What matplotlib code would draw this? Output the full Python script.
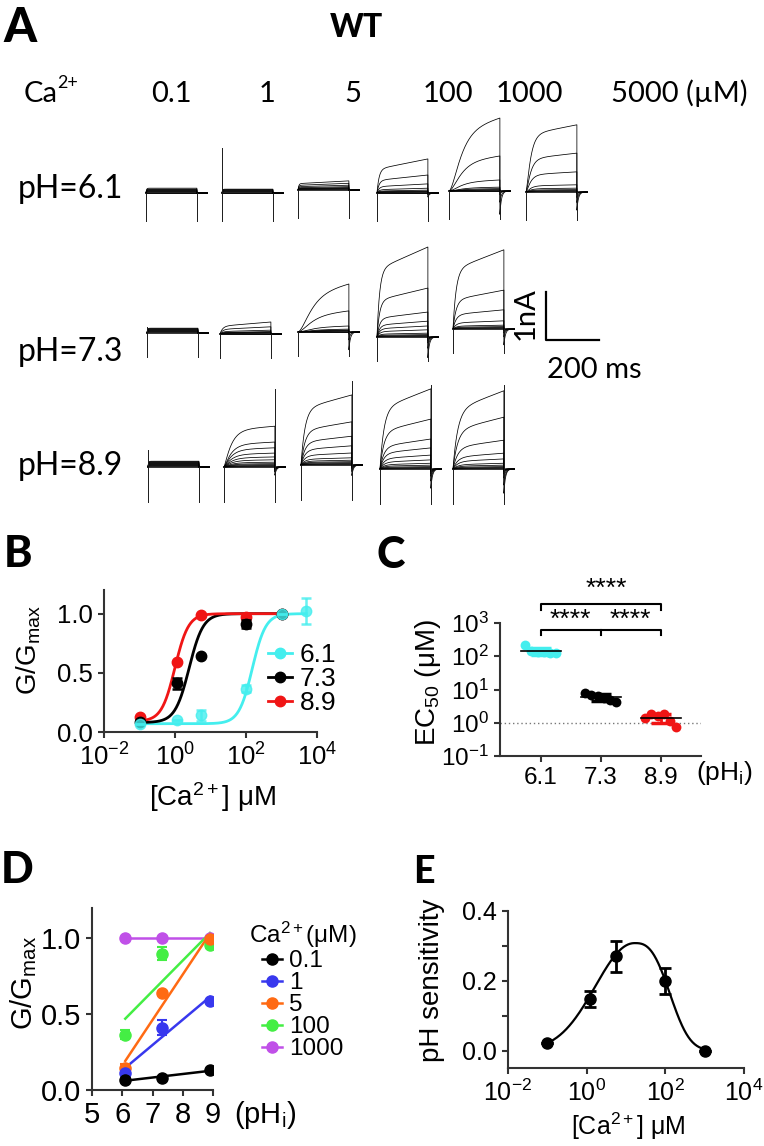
import numpy as np
import matplotlib
matplotlib.use("Agg")
import matplotlib.pyplot as plt
from matplotlib.lines import Line2D
from matplotlib.ticker import NullLocator, FixedLocator

plt.rcParams.update({
    "font.family": ["Liberation Sans", "DejaVu Sans"],
    "mathtext.fontset": "custom",
    "mathtext.rm": "Liberation Sans",
    "mathtext.it": "Liberation Sans:italic",
    "mathtext.bf": "Liberation Sans:bold",
    "axes.linewidth": 1.5,
    "axes.edgecolor": "#333333",
    "xtick.major.width": 1.5, "ytick.major.width": 1.5,
    "xtick.minor.width": 1.5, "ytick.minor.width": 1.5,
    "xtick.major.size": 4.5, "ytick.major.size": 4.5,
    "ytick.minor.size": 4.5,
    "xtick.color": "#333333", "ytick.color": "#333333",
    "xtick.labelcolor": "black", "ytick.labelcolor": "black",
})
W, H = 764, 1146
CAL = "Lato"          # stand-in for the Calibri used in panel A

# ---------------- panel A: current families ----------------
CA_A = ["0.1", "1", "5", "100", "1000"]
PH_A = ["6.1", "7.3", "8.9"]
# current (nA) at the end of each voltage step, largest first
AMP_61 = [
    [0.10, 0.08, 0.07, 0.06, 0.05, 0.04, 0.03, 0.02, 0.01, 0.0, -0.01],
    [0.08, 0.07, 0.06, 0.05, 0.04, 0.03, 0.02, 0.01, 0.0, -0.01],
    [0.19, 0.14, 0.10, 0.07, 0.05, 0.04, 0.03, 0.02, 0.01, 0.0],
    [0.71, 0.375, 0.19, 0.10, 0.06, 0.04, 0.03, 0.02, 0.01, 0.0, -0.01],
    [1.52, 0.73, 0.23, 0.08, 0.05, 0.03, 0.02, 0.01, 0.0, -0.01],
    [1.40, 0.81, 0.42, 0.15, 0.08, 0.05, 0.03, 0.02, 0.01, 0.0],
]
AMP_73 = [
    [0.10, 0.09, 0.08, 0.07, 0.06, 0.05, 0.04, 0.03, 0.02, 0.01, 0.0],
    [0.25, 0.15, 0.08, 0.05, 0.04, 0.03, 0.02, 0.01, 0.0, -0.01],
    [1.00, 0.44, 0.125, 0.06, 0.04, 0.03, 0.02, 0.01, 0.0, -0.01],
    [1.875, 1.02, 0.52, 0.33, 0.23, 0.15, 0.08, 0.05, 0.03, 0.02, 0.01, 0.0],
    [1.65, 0.81, 0.40, 0.17, 0.08, 0.05, 0.03, 0.02, 0.01, 0.0],
]
AMP_89 = [
    [0.12, 0.11, 0.10, 0.09, 0.08, 0.07, 0.06, 0.05, 0.04, 0.03, 0.02, 0.01, 0.0],
    [0.85, 0.52, 0.40, 0.29, 0.21, 0.15, 0.10, 0.07, 0.05, 0.03, 0.02, 0.01, 0.0],
    [1.46, 0.90, 0.60, 0.40, 0.25, 0.15, 0.10, 0.07, 0.05, 0.03, 0.02, 0.01, 0.0],
    [1.67, 1.04, 0.625, 0.44, 0.29, 0.19, 0.12, 0.08, 0.05, 0.03, 0.02, 0.01, 0.0],
    [1.63, 1.08, 0.60, 0.33, 0.21, 0.12, 0.08, 0.05, 0.03, 0.02, 0.01, 0.0],
]
# activation time constant (ms), sigmoid power, slow-creep fraction, tail fraction
TAU = [[2, 2, 3, 8, 35, 15], [2, 10, 40, 10, 12], [2, 25, 15, 15, 18]]
POW = [[1, 1, 1, 1, 2, 1.5], [1, 1, 2, 1, 1], [1, 1.3, 1, 1, 1]]
CREEP = [[0, 0, 0.3, 0.3, 0.2, 0.15], [0, 0.35, 0.25, 0.25, 0.25], [0, 0.1, 0.2, 0.25, 0.25]]
TAIL = [[0, 0, 0.05, 0.12, 0.32, 0.27], [0, 0.05, 0.37, 0.23, 0.2], [0, 0.2, 0.15, 0.24, 0.31]]
# capacitive artefacts (nA): downward per row, upward at pulse on / off
CAP_DN = [0.58, 0.5, 0.73]
CAP_ON = [[0, 0.94, 0, 0, 0, 0], [0.12, 0, 0, 0, 0], [0.35, 0, 0, 0, 0]]
CAP_OFF = [[0, 0, 0, 0, 0, 0], [0, 0, 0, 0, 0], [0, 1.63, 1.75, 1.75, 1.75]]
PULSE_MS, TAIL_MS = 192, 40

# ---------------- panel B ----------------
CA_B = [0.1, 1.15, 5.5, 100, 1000, 5000]
G_61 = [0.07, 0.10, 0.14, 0.366, 1.0, 1.02]
G_61_ERR = [0, 0, 0.045, 0.03, 0, 0.11]
G_73 = [0.085, 0.41, 0.64, 0.91, 1.0]
G_73_ERR = [0, 0.045, 0, 0.035, 0]
G_89 = [0.13, 0.59, 0.986, 0.97, 1.0]
G_89_ERR = [0, 0, 0, 0, 0]
# Hill fit parameters per pH (6.1, 7.3, 8.9)
EC50_FIT = [150, 2.5, 1.0]
NH_FIT = [2.3, 2.2, 2.3]
BOTTOM_FIT = [0.07, 0.08, 0.09]

# ---------------- panel C ----------------
PH_C = ["6.1", "7.3", "8.9"]
EC50_61 = [215, 140, 135, 135, 128, 122]
EC50_73 = [7.8, 6.8, 6.2, 5.6, 4.7, 4.2]
EC50_89 = [1.4, 1.85, 1.6, 1.8, 1.1, 0.75]
JITTER = [-0.27, -0.16, -0.05, 0.05, 0.15, 0.26]

# ---------------- panel D ----------------
PH_D = [6.1, 7.3, 8.9]
CA_D = ["0.1", "1", "5", "100", "1000"]
GD = [[0.066, 0.081, 0.13], [0.11, 0.41, 0.587], [0.143, 0.637, 0.995],
      [0.363, 0.90, 0.955], [1.0, 1.0, 1.0]]
GD_ERR = [[0, 0, 0], [0, 0.05, 0], [0.03, 0, 0.02], [0.03, 0.045, 0.02], [0, 0, 0]]

# ---------------- panel E ----------------
CA_E = [0.1, 1.2, 5.5, 100, 1000]
SENS = [0.022, 0.147, 0.27, 0.20, 0.0]
SENS_ERR = [0, 0.0225, 0.044, 0.038, 0]
# two-sided bell fit on log10[Ca]: peak, centre, (width, power) left / right
BELL_PEAK, BELL_MU = 0.308, 1.22
BELL_LEFT, BELL_RIGHT = (1.38, 2.07), (1.053, 2.8)

CYAN, RED, BLACK = "#44EEEE", "#F01515", "black"
D_COLORS = ["black", "#3838EE", "#FF6A13", "#44EE44", "#C050E8"]


def px_rect(x0, y0, x1, y1):
    return [x0 / W, 1 - y1 / H, (x1 - x0) / W, (y1 - y0) / H]


fig = plt.figure(figsize=(W / 100, H / 100), dpi=100)
ov = fig.add_axes([0, 0, 1, 1])
ov.set_xlim(0, W); ov.set_ylim(H, 0); ov.axis("off")

# ---- A ----
PX_MS, PX_NA = 53 / 200, 48
COL_X = [[146, 222, 298, 377, 449, 526], [147, 220, 298, 377, 453], [148, 224, 301, 380, 453]]
BASE_Y = [[193, 193, 190, 193, 191, 192], [333, 334, 332, 337, 329], [467, 467, 465, 469, 469]]
t_on = np.linspace(0, PULSE_MS, 160)
t_off = np.linspace(0, TAIL_MS, 50)
for r, amps_row in enumerate([AMP_61, AMP_73, AMP_89]):
    for c, amps in enumerate(amps_row):
        x0, y0 = COL_X[r][c], BASE_Y[r][c]
        act = (1 - np.exp(-t_on / TAU[r][c])) ** POW[r][c]
        act = act / act[-1]
        for a in amps:
            i_on = a * ((1 - CREEP[r][c]) * act + CREEP[r][c] * t_on / PULSE_MS)
            i_off = -TAIL[r][c] * a * np.exp(-t_off / 6.0)
            xs = x0 + np.concatenate([t_on, PULSE_MS + t_off]) * PX_MS
            ys = y0 - np.concatenate([i_on, i_off]) * PX_NA
            ov.plot(xs, ys, color="black", lw=0.55)
        for tt, up in ((0, CAP_ON[r][c]), (PULSE_MS, CAP_OFF[r][c])):
            xx = x0 + tt * PX_MS
            ov.plot([xx, xx], [y0 + CAP_DN[r] * PX_NA, y0 - up * PX_NA], color="#1a1a1a", lw=0.7)

# scale bar 1 nA / 200 ms
ov.plot([546, 546, 546 + 200 * PX_MS], [340 - 1 * PX_NA, 340, 340], color="black", lw=1.6)
ov.text(526, 314, "1nA", rotation=90, ha="center", va="center", fontsize=21, family=CAL)
ov.text(547, 370, "200 ms", ha="left", va="center", fontsize=21, family=CAL)

ov.text(3, 42, "A", fontsize=34, weight="black", family=CAL, va="baseline")
ov.text(356, 37, "WT", fontsize=23, weight="black", family=CAL, va="baseline", ha="center")
ov.text(24, 102, "Ca", fontsize=21, family=CAL, va="baseline")
ov.text(57, 88, "2+", fontsize=13, family=CAL, va="baseline")
for lab, xc in zip(CA_A, [171, 267, 353, 448, 529]):
    ov.text(xc, 102, lab, fontsize=21, family=CAL, va="baseline", ha="center")
ov.text(611, 102, "5000 (\u00b5M)", fontsize=21, family=CAL, va="baseline")
for lab, yc in zip(PH_A, [189, 352, 466]):
    ov.text(18, yc, "pH=" + lab, fontsize=23, family=CAL, va="center")

# ---- B ----
axb = fig.add_axes(px_rect(104, 590, 317, 732))
xx = np.logspace(-1, np.log10(5000), 300)
for gi in (2, 1, 0):
    col = [CYAN, BLACK, RED][gi]
    ys = [G_61, G_73, G_89][gi]
    es = [G_61_ERR, G_73_ERR, G_89_ERR][gi]
    xs = CA_B[:len(ys)]
    xf = xx if gi == 0 else xx[xx <= 1000]
    fit = BOTTOM_FIT[gi] + (1 - BOTTOM_FIT[gi]) / (1 + (EC50_FIT[gi] / xf) ** NH_FIT[gi])
    alpha = 0.8 if gi == 0 else 1
    axb.plot(xf, fit, color=col, lw=2, zorder=3 + gi * 0.1)
    axb.errorbar(xs, ys, yerr=es, fmt="o", color=col, ms=7.5, capsize=3.5, elinewidth=1.8,
                 capthick=1.8, alpha=alpha, zorder=4 + (2 - gi) * 0.1 if gi else 5)
axb.set_xscale("log")
axb.set_xlim(1e-2, 1e4); axb.set_ylim(0, 1.2)
axb.xaxis.set_major_locator(FixedLocator([1e-2, 1, 1e2, 1e4]))
axb.xaxis.set_minor_locator(NullLocator())
axb.set_yticks([0, 0.5, 1.0]); axb.set_yticklabels(["0.0", "0.5", "1.0"])
axb.tick_params(labelsize=18.5)
for s in ("top", "right"):
    axb.spines[s].set_visible(False)
hb = [Line2D([], [], color=c, marker="o", ms=7.5, lw=2) for c in (CYAN, BLACK, RED)]
axb.legend(hb, ["6.1", "7.3", "8.9"], loc="upper left", bbox_to_anchor=(268 / W, 1 - 643 / H),
           bbox_transform=fig.transFigure, frameon=False, fontsize=19, handlelength=0.9,
           handletextpad=0.3, labelspacing=0.0, borderpad=0, borderaxespad=0)
ov.text(29, 650, "G/G$_{\\rm max}$", rotation=90, ha="center", va="center", fontsize=20)
ov.text(212, 797, "[Ca$^{2+}$] \u03bcM", ha="center", va="center", fontsize=20)

# ---- C ----
axc = fig.add_axes(px_rect(500, 623, 701, 756))
for gi, (vals, col) in enumerate(zip([EC50_61, EC50_73, EC50_89], [CYAN, BLACK, RED])):
    v = np.array(vals)
    axc.errorbar(gi, v.mean(), yerr=v.std(ddof=1), color=col, capsize=7, capthick=2.5,
                 elinewidth=2, zorder=3)
    axc.scatter(gi + np.array(JITTER), v, s=50, color=col, zorder=4, lw=0)
    axc.plot([gi - 0.33, gi + 0.33], [v.mean()] * 2, color="black", lw=1.2, zorder=5)
axc.axhline(1, color="#777777", ls=(0, (1, 2)), lw=1, zorder=1)
axc.set_yscale("log")
axc.set_ylim(0.1, 1000); axc.set_xlim(-0.68, 2.67)
axc.yaxis.set_major_locator(FixedLocator([0.1, 1, 10, 100, 1000]))
axc.yaxis.set_minor_locator(NullLocator())
axc.set_xticks([0, 1, 2]); axc.set_xticklabels(PH_C)
axc.tick_params(labelsize=17.5)
for s in ("top", "right"):
    axc.spines[s].set_visible(False)
# significance brackets
axc.plot([0, 0, 2, 2], [2470, 3800, 3800, 2470], color="black", lw=1.5, clip_on=False)
axc.plot([0, 0, 2, 2], [436, 612, 612, 436], color="black", lw=1.5, clip_on=False)
axc.plot([1, 1], [436, 612], color="black", lw=1.5, clip_on=False)
for xs_, ys_ in ((1.1, 11000), (0.5, 1250), (1.5, 1250)):
    axc.text(xs_, ys_, "****", ha="center", va="center", fontsize=19)
ov.text(428, 683, "EC$_{50}$ (\u03bcM)", rotation=90, ha="center", va="center", fontsize=20)
ov.text(724, 773, "(pH$_{\\rm i}$)", ha="center", va="center", fontsize=19)

# ---- D ----
axd = fig.add_axes(px_rect(92, 908, 213, 1090))
for gi in (4, 3, 2, 1, 0):
    col = D_COLORS[gi]
    k, b = np.polyfit(PH_D, GD[gi], 1)
    axd.plot([PH_D[0], PH_D[-1]], [k * PH_D[0] + b, k * PH_D[-1] + b], color=col, lw=1.8, zorder=3)
    axd.errorbar(PH_D, GD[gi], yerr=GD_ERR[gi], fmt="o", color=col, ms=8, capsize=3.5,
                 elinewidth=1.5, capthick=1.5, zorder=4)
axd.set_xlim(5, 9); axd.set_ylim(0, 1.2)
axd.set_xticks([5, 6, 7, 8, 9])
axd.set_yticks([0, 0.5, 1.0]); axd.set_yticklabels(["0.0", "0.5", "1.0"])
axd.tick_params(labelsize=21)
for s in ("top", "right"):
    axd.spines[s].set_visible(False)
hd = [Line2D([], [], color=c, marker="o", ms=8, lw=1.8) for c in D_COLORS]
axd.legend(hd, CA_D, loc="upper left", bbox_to_anchor=(249 / W, 1 - 920 / H),
           bbox_transform=fig.transFigure, frameon=False, fontsize=17.5, handlelength=0.8,
           handletextpad=0.3, labelspacing=0.0, borderpad=0, borderaxespad=0,
           title="Ca$^{2+}$(\u03bcM)", title_fontsize=17.5)
ov.text(24, 983, "G/G$_{\\rm max}$", rotation=90, ha="center", va="center", fontsize=21)
ov.text(265, 1115, "(pH$_{\\rm i}$)", ha="center", va="center", fontsize=21)

# ---- E ----
axe = fig.add_axes(px_rect(508, 911, 744, 1068))
u = np.linspace(np.log10(CA_E[0]), np.log10(CA_E[-1]), 300)
w = np.where(u < BELL_MU, BELL_LEFT[0], BELL_RIGHT[0])
p = np.where(u < BELL_MU, BELL_LEFT[1], BELL_RIGHT[1])
axe.plot(10 ** u, BELL_PEAK * np.exp(-(np.abs(u - BELL_MU) / w) ** p), color="black", lw=1.6)
axe.errorbar(CA_E, SENS, yerr=SENS_ERR, fmt="o", color="black", ms=8, capsize=4,
             elinewidth=2, capthick=2)
axe.set_xscale("log")
axe.set_xlim(1e-2, 1e4); axe.set_ylim(-0.05, 0.4)
axe.xaxis.set_major_locator(FixedLocator([1e-2, 1, 1e2, 1e4]))
axe.xaxis.set_minor_locator(NullLocator())
axe.set_yticks([0, 0.2, 0.4]); axe.set_yticklabels(["0.0", "0.2", "0.4"])
axe.set_yticks([0.1, 0.3], minor=True)
axe.tick_params(labelsize=18)
for s in ("top", "right"):
    axe.spines[s].set_visible(False)
ov.text(432, 980, "pH sensitivity", rotation=90, ha="center", va="center", fontsize=20)
ov.text(628, 1135, "[Ca$^{2+}$] \u03bcM", ha="center", va="baseline", fontsize=18)

# panel letters
for lab, x, y, fs in (("B", 4, 567, 31), ("C", 376, 568, 31), ("D", 1, 883, 31), ("E", 413, 883, 27)):
    ov.text(x, y, lab, fontsize=fs, weight="black", family=CAL, va="baseline")

fig.savefig("out.png", dpi=100)
